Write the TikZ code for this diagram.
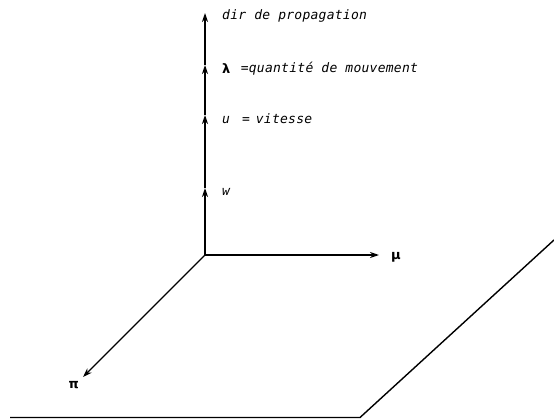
\documentclass[tikz,border=0pt]{standalone}
\usepackage{amsmath,amssymb}
\usepackage{fontspec}
\setmainfont{Liberation Sans}
\newfontfamily\labelfont{DejaVu Sans Mono}[LetterSpace=2]
\newfontfamily\greekfont{DejaVu Sans}
\usepackage{tikz}
\usetikzlibrary{arrows.meta, positioning}

\begin{document}
\begin{tikzpicture}[
    x=1pt, y=-1pt,
    axis/.style={->, >={Stealth[length=9pt, width=6pt]}, line width=1.4pt, draw=black},
    plane/.style={line width=1.4pt, draw=black},
    lbl/.style={font=\labelfont\fontsize{13}{15}\selectfont\itshape, anchor=west, inner sep=0pt},
    greek/.style={font=\greekfont\fontsize{13}{15}\selectfont\bfseries, inner sep=0pt}
]
    \useasboundingbox (0,0) rectangle (554,420);

    % axes
    \coordinate (o) at (205,255);
    \coordinate (wtip) at (205,188);
    \coordinate (utip) at (205,115);
    \coordinate (ltip) at (205,65);
    \coordinate (dtip) at (205,13);
    \coordinate (mutip) at (379,255);
    \coordinate (pitip) at (83,377);

    \draw[axis] (o) -- (wtip);
    \draw[axis] (wtip) -- (utip);
    \draw[axis] (utip) -- (ltip);
    \draw[axis] (ltip) -- (dtip);
    \draw[axis] (o) -- (mutip);
    \draw[axis] (o) -- (pitip);

    % labels
    \node[lbl, right=17pt of dtip, yshift=-3pt] (dlab) {dir de propagation};
    \node[greek, anchor=west, right=17pt of ltip, yshift=-4pt] (llab) {λ};
    \node[lbl, right=10pt of llab] (qlab) {=quantité de mouvement};
    \node[lbl, right=17pt of utip, yshift=-4pt] (ulab) {u\hspace{12pt}=\hspace{6pt}vitesse};
    \node[lbl, right=17pt of wtip, yshift=-4pt] (wlab) {w};
    \node[greek, right=12pt of mutip, yshift=-2pt] (mulab) {μ};
    \node[greek, below left=4pt and 4pt of pitip] (pilab) {π};

    % plane
    \coordinate (p1) at (10,417.5);
    \coordinate (p2) at (360,417.5);
    \coordinate (p3) at (554,240);
    \draw[plane] (p1) -- (p2) -- (p3);
\end{tikzpicture}
\end{document}
